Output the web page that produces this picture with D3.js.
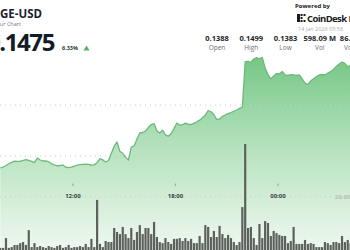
<!DOCTYPE html>
<html>
<head>
  <meta charset="utf-8">
  <title>DOGE-USD</title>
  <script src="https://d3js.org/d3.v7.min.js"></script>
  <style>
    body { margin: 0; background: #fff; }
    svg { display: block; font-family: "Open Sans", "Noto Sans", sans-serif; }
  </style>
</head>
<body>
<script>
// 10 minute candles, first one at 07:45 on 13 Jan
var startTime = new Date(2026, 0, 13, 7, 45);
var stepMinutes = 10;

var prices = [
  0.13841, 0.13851, 0.13867, 0.13885, 0.13899, 0.13911, 0.13910, 0.13909, 0.13918, 0.13928,
  0.13920, 0.13908, 0.13897, 0.13944, 0.13923, 0.13913, 0.13913, 0.13905, 0.13884, 0.13872,
  0.13864, 0.13866, 0.13872, 0.13849, 0.13844, 0.13851, 0.13859, 0.13870, 0.13875, 0.13879,
  0.13881, 0.13878, 0.13870, 0.13873, 0.13895, 0.13938, 0.13924, 0.13903, 0.13918, 0.13992,
  0.14063, 0.14108, 0.14012, 0.13992, 0.13950, 0.13923, 0.14056, 0.14067, 0.14138, 0.14200,
  0.14205, 0.14221, 0.14256, 0.14287, 0.14297, 0.14221, 0.14200, 0.14229, 0.14179, 0.14167,
  0.14195, 0.14245, 0.14303, 0.14279, 0.14285, 0.14301, 0.14288, 0.14287, 0.14299, 0.14315,
  0.14332, 0.14356, 0.14383, 0.14431, 0.14418, 0.14389, 0.14338, 0.14344, 0.14370, 0.14385,
  0.14398, 0.14410, 0.14423, 0.14436, 0.14454, 0.14466, 0.14932, 0.14935, 0.14923, 0.14959,
  0.14973, 0.14964, 0.14974, 0.14867, 0.14799, 0.14755, 0.14785, 0.14809, 0.14805, 0.14831,
  0.14795, 0.14792, 0.14799, 0.14795, 0.14791, 0.14795, 0.14754, 0.14713, 0.14697, 0.14733,
  0.14756, 0.14778, 0.14795, 0.14800, 0.14795, 0.14815, 0.14830, 0.14852, 0.14883, 0.14908,
  0.14928, 0.14915, 0.14877, 0.14897
];

// volume per candle, millions
var volumes = [
  0.8, 0.8, 4.5, 0.8, 1.1, 1.9, 1.9, 2.6, 3.0, 1.9,
  7.5, 1.1, 2.6, 1.1, 1.5, 1.1, 0.8, 1.5, 1.1, 0.8,
  1.5, 1.9, 0.8, 1.1, 1.9, 0.8, 1.1, 1.1, 1.5, 1.1,
  2.3, 1.1, 4.2, 1.1, 18.9, 2.3, 1.1, 3.4, 3.0, 3.0,
  8.3, 6.8, 6.0, 8.7, 6.0, 4.5, 8.3, 3.8, 6.8, 9.4,
  6.0, 8.3, 8.3, 6.0, 10.6, 4.9, 3.0, 2.6, 4.5, 3.0,
  2.3, 4.2, 4.2, 4.5, 3.4, 4.5, 3.4, 4.2, 2.6, 2.6,
  5.3, 2.6, 9.4, 8.7, 4.9, 7.2, 4.9, 9.1, 6.0, 4.5,
  5.7, 4.5, 3.0, 1.9, 3.0, 16.2, 40.0, 8.3, 8.7, 4.5,
  1.9, 9.8, 4.5, 10.9, 10.2, 5.3, 7.2, 6.4, 5.7, 5.3,
  5.3, 2.6, 3.4, 8.7, 2.3, 2.3, 2.3, 3.8, 2.3, 2.6,
  2.3, 1.1, 1.1, 1.1, 3.0, 2.6, 1.9, 3.0, 3.0, 2.6,
  5.3, 3.0, 3.8, 2.6
];

var priceGrid = [0.14487, 0.13964];
var volumeGrid = [20];

var statValues = ["0.1388", "0.1499", "0.1383", "598.09 M", "86.73 M"];
var statLabels = ["Open", "High", "Low", "Vol", "Vol (USD)"];

var width = 350, height = 250;

var data = prices.map(function(p, i) {
  return { t: d3.timeMinute.offset(startTime, i * stepMinutes), price: p, vol: volumes[i] };
});

var svg = d3.select("body").append("svg")
  .attr("width", width)
  .attr("height", height);

var x = d3.scaleTime()
  .domain([new Date(2026, 0, 13, 7, 44), new Date(2026, 0, 14, 4, 13)])
  .range([0, width]);

var y = d3.scaleLinear()
  .domain([0.138, 0.150])
  .range([172, 55]);

var yVol = d3.scaleLinear()
  .domain([0, 20])
  .range([250, 197]);

// area gradient
var grad = svg.append("defs").append("linearGradient")
  .attr("id", "areaFill")
  .attr("gradientUnits", "userSpaceOnUse")
  .attr("x1", 0).attr("x2", 0)
  .attr("y1", 55).attr("y2", 250);
grad.append("stop").attr("offset", "0%").attr("stop-color", "#74c684");
grad.append("stop").attr("offset", "50%").attr("stop-color", "#b9e3c1");
grad.append("stop").attr("offset", "100%").attr("stop-color", "#eff8f0");

var area = d3.area()
  .x(function(d) { return x(d.t); })
  .y0(height)
  .y1(function(d) { return y(d.price); });

var line = d3.line()
  .x(function(d) { return x(d.t); })
  .y(function(d) { return y(d.price); });

svg.append("path")
  .attr("d", area(data))
  .attr("fill", "url(#areaFill)");

// dotted gridlines
svg.selectAll(".pgrid")
  .data(priceGrid)
  .enter().append("line")
  .attr("x1", 0).attr("x2", width)
  .attr("y1", function(d) { return y(d); })
  .attr("y2", function(d) { return y(d); })
  .attr("stroke", "#c9cdc9")
  .attr("stroke-width", 1)
  .attr("stroke-dasharray", "1,4");

svg.selectAll(".vgrid")
  .data(volumeGrid)
  .enter().append("line")
  .attr("x1", 0).attr("x2", width)
  .attr("y1", function(d) { return yVol(d); })
  .attr("y2", function(d) { return yVol(d); })
  .attr("stroke", "#c9cdc9")
  .attr("stroke-width", 1)
  .attr("stroke-dasharray", "1,4");

svg.selectAll(".vlabel")
  .data(volumeGrid)
  .enter().append("text")
  .attr("x", 335)
  .attr("y", function(d) { return yVol(d) + 2; })
  .attr("font-size", 6)
  .attr("font-weight", 600)
  .attr("fill", "#b3b6b3")
  .text(function(d) { return d3.format(".2f")(d) + " M"; });

// volume bars
svg.selectAll(".bar")
  .data(data)
  .enter().append("rect")
  .attr("x", function(d) { return x(d.t) - 1.1; })
  .attr("width", 2.2)
  .attr("y", function(d) { return yVol(d.vol); })
  .attr("height", function(d) { return yVol(0) - yVol(d.vol); })
  .attr("fill", "#5d615d");

svg.append("path")
  .attr("d", line(data))
  .attr("fill", "none")
  .attr("stroke", "#6db97b")
  .attr("stroke-width", 1.3)
  .attr("stroke-linejoin", "round");

// time axis
var ticks = x.ticks(d3.timeHour.every(6));
svg.selectAll(".tick")
  .data(ticks)
  .enter().append("line")
  .attr("x1", function(d) { return x(d); })
  .attr("x2", function(d) { return x(d); })
  .attr("y1", 183.5).attr("y2", 186)
  .attr("stroke", "#9a9e9a")
  .attr("stroke-width", 1);

svg.selectAll(".tlabel")
  .data(ticks)
  .enter().append("text")
  .attr("x", function(d) { return x(d); })
  .attr("y", 197.5)
  .attr("text-anchor", "middle")
  .attr("font-size", 6)
  .attr("font-weight", 700)
  .attr("fill", "#3d403d")
  .text(d3.timeFormat("%H:%M"));

// header, left
svg.append("text")
  .attr("x", 42).attr("y", 18)
  .attr("text-anchor", "end")
  .attr("font-size", 11.5)
  .attr("font-weight", 700)
  .attr("fill", "#1b2232")
  .text("DOGE-USD");

svg.append("text")
  .attr("x", 21).attr("y", 25.5)
  .attr("text-anchor", "end")
  .attr("font-size", 5.5)
  .attr("fill", "#707480")
  .text("24 Hour Chart");

svg.append("text")
  .attr("x", 54).attr("y", 51)
  .attr("text-anchor", "end")
  .attr("font-size", 24)
  .attr("font-weight", 700)
  .attr("letter-spacing", -1.4)
  .attr("fill", "#141a28")
  .text("$0.1475");

svg.append("text")
  .attr("x", 62).attr("y", 50)
  .attr("font-size", 5.5)
  .attr("font-weight", 700)
  .attr("fill", "#2f3a33")
  .text("6.33%");

svg.append("path")
  .attr("d", "M83.5,50.5 L86.5,45.5 L89.5,50.5 Z")
  .attr("fill", "#4fb35f");

// header, right
svg.append("text")
  .attr("x", 295).attr("y", 8)
  .attr("font-size", 6)
  .attr("font-weight", 700)
  .attr("fill", "#222")
  .text("Powered by");

var logo = svg.append("g").attr("fill", "#1b1b1b");
[[297, 14, 3, 8], [300.5, 14, 2, 2], [303.5, 14, 2, 2], [300.5, 17, 2, 2], [300.5, 20, 2, 2], [303.5, 20, 2, 2]]
  .forEach(function(r) {
    logo.append("rect").attr("x", r[0]).attr("y", r[1]).attr("width", r[2]).attr("height", r[3]);
  });

svg.append("text")
  .attr("x", 307).attr("y", 21.5)
  .attr("font-size", 9.5)
  .attr("font-weight", 700)
  .attr("letter-spacing", -0.6)
  .attr("fill", "#1b1b1b")
  .text("CoinDesk Data");

svg.append("text")
  .attr("x", 298).attr("y", 30.5)
  .attr("font-size", 5.5)
  .attr("fill", "#a9acb2")
  .text("14 Jan 2026 05:58");

var statX = d3.scalePoint()
  .domain(statLabels.map(function(d, i) { return i; }))
  .range([217, 354]);

svg.selectAll(".sval")
  .data(statValues)
  .enter().append("text")
  .attr("x", function(d, i) { return statX(i); })
  .attr("y", 41)
  .attr("text-anchor", "middle")
  .attr("font-size", 7.5)
  .attr("font-weight", 700)
  .attr("fill", "#1c1f26")
  .text(function(d) { return d; });

svg.selectAll(".slab")
  .data(statLabels)
  .enter().append("text")
  .attr("x", function(d, i) { return statX(i) + (i === 4 ? 4 : 0); })
  .attr("y", 49.5)
  .attr("text-anchor", "middle")
  .attr("font-size", 6.5)
  .attr("fill", "#6d7078")
  .text(function(d) { return d; });
</script>
</body>
</html>
